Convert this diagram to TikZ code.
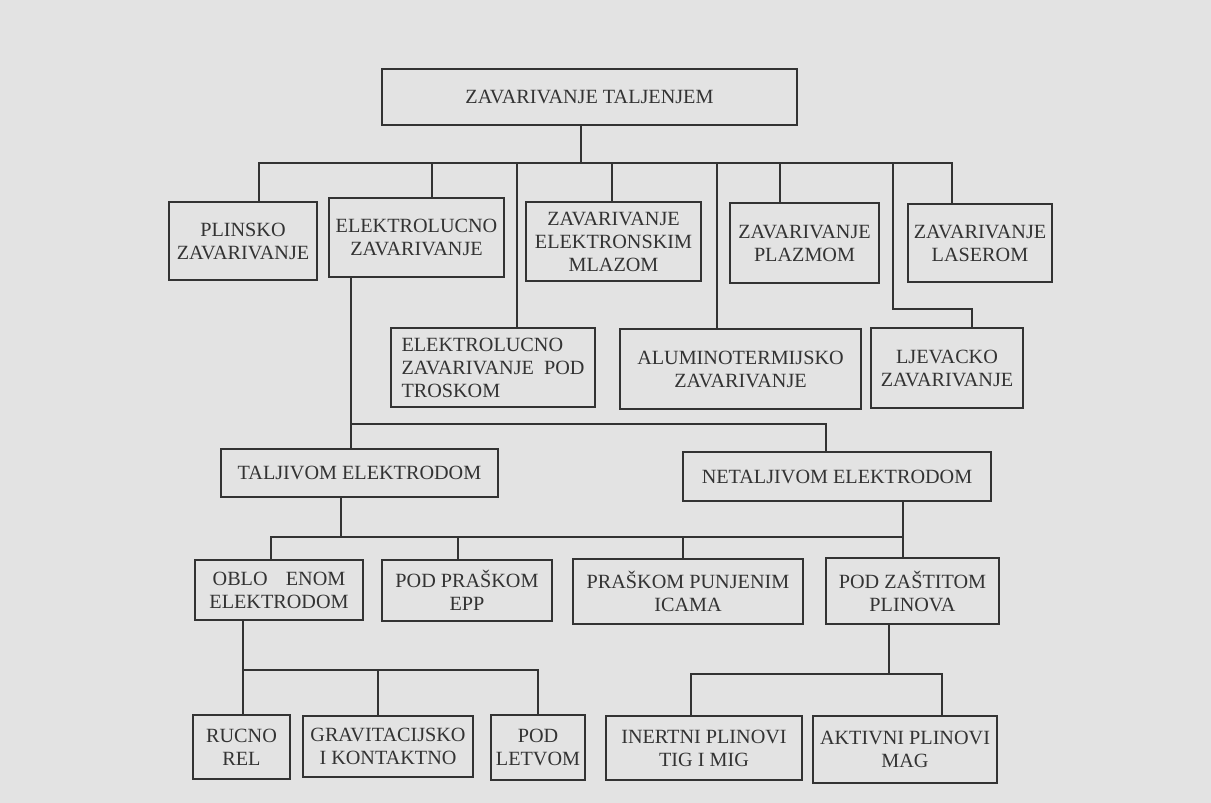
\documentclass[tikz,border=0pt]{standalone}
\usepackage{fontspec}
\setmainfont{Liberation Serif}
\usetikzlibrary{positioning}

\definecolor{bggray}{HTML}{E3E3E3}
\definecolor{ink}{HTML}{333333}

\begin{document}
\begin{tikzpicture}[
  x=1pt, y=-1pt,
  box/.style = {draw=ink, line width=1.8pt, text=ink, align=center,
    inner sep=0pt, font=\fontsize{20.2}{23}\selectfont},
  link/.style = {draw=ink, line width=1.8pt},
]

  \fill[bggray] (0,0) rectangle (1211,803);
  \useasboundingbox (0,0) rectangle (1211,803);

  \node[box, minimum width=415pt, minimum height=56pt] (root) at (589.5,97) {ZAVARIVANJE TALJENJEM};

  % first level
  \node[box, minimum width=148pt, minimum height=78pt] (plinsko) at (243,241) {PLINSKO\\ZAVARIVANJE};
  \node[box, minimum width=175pt, minimum height=79pt] (elektro) at (416.5,237.5) {ELEKTROLUCNO\\ZAVARIVANJE};
  \node[box, minimum width=175pt, minimum height=79pt] (mlaz) at (613.5,241.5) {ZAVARIVANJE\\ELEKTRONSKIM\\MLAZOM};
  \node[box, minimum width=149pt, minimum height=80pt] (plazma) at (804.5,243) {ZAVARIVANJE\\PLAZMOM};
  \node[box, minimum width=144pt, minimum height=78pt] (laser) at (980,243) {ZAVARIVANJE\\LASEROM};

  \node[box, align=left, minimum width=204pt, minimum height=79pt] (troskom) at (493,367.5) {ELEKTROLUCNO\\ZAVARIVANJE\ \ POD\\TROSKOM};
  \node[box, minimum width=241pt, minimum height=80pt] (alumino) at (740.5,369) {ALUMINOTERMIJSKO\\ZAVARIVANJE};
  \node[box, minimum width=152pt, minimum height=80pt] (ljevacko) at (947,368) {LJEVACKO\\ZAVARIVANJE};

  % elektrode
  \node[box, minimum width=277pt, minimum height=48pt] (taljivom) at (359.5,473) {TALJIVOM ELEKTRODOM};
  \node[box, minimum width=308pt, minimum height=49pt] (netaljivom) at (837,476.5) {NETALJIVOM ELEKTRODOM};

  \node[box, minimum width=168pt, minimum height=60pt] (oblo) at (279,590) {OBLO\hspace{0.9em}ENOM\\ELEKTRODOM};
  \node[box, minimum width=170pt, minimum height=61pt] (praskom) at (467,590.5) {POD PRAŠKOM\\EPP};
  \node[box, minimum width=230pt, minimum height=65pt] (punjenim) at (688,591.5) {PRAŠKOM PUNJENIM\\ICAMA};
  \node[box, minimum width=173pt, minimum height=66pt] (zastitom) at (912.5,591) {POD ZAŠTITOM\\PLINOVA};

  % last level
  \node[box, minimum width=97pt, minimum height=64pt] (rucno) at (241.5,747) {RUCNO\\REL};
  \node[box, minimum width=170pt, minimum height=61pt] (gravit) at (388,746.5) {GRAVITACIJSKO\\I KONTAKTNO};
  \node[box, minimum width=94pt, minimum height=65pt] (letvom) at (538,747.5) {POD\\LETVOM};
  \node[box, minimum width=196pt, minimum height=64pt] (inertni) at (704,748) {INERTNI PLINOVI\\TIG I MIG};
  \node[box, minimum width=184pt, minimum height=67pt] (aktivni) at (905,749.5) {AKTIVNI PLINOVI\\MAG};

  % top bus
  \coordinate (r0) at (581,163);
  \coordinate (r1) at (259,163);
  \coordinate (r2) at (432,163);
  \coordinate (r3) at (517,163);
  \coordinate (r4) at (612,163);
  \coordinate (r5) at (717,163);
  \coordinate (r6) at (780,163);
  \coordinate (r7) at (893,163);
  \coordinate (r8) at (952,163);
  \coordinate (bend) at (893,309);
  \coordinate (bend2) at (972,309);

  \draw[link] (root.south -| r0) -- (r0);
  \draw[link] (plinsko.north -| r1) -- (r1) -- (r8) -- (laser.north -| r8);
  \draw[link] (r2) -- (elektro.north -| r2);
  \draw[link] (r3) -- (troskom.north -| r3);
  \draw[link] (r4) -- (mlaz.north -| r4);
  \draw[link] (r5) -- (alumino.north -| r5);
  \draw[link] (r6) -- (plazma.north -| r6);
  \draw[link] (r7) -- (bend) -- (bend2) -- (ljevacko.north -| bend2);

  % elektrolucno
  \coordinate (e0) at (351,424);
  \coordinate (e1) at (826,424);
  \draw[link] (elektro.south -| e0) -- (taljivom.north -| e0);
  \draw[link] (e0) -- (e1) -- (netaljivom.north -| e1);

  \coordinate (t0) at (341,537);
  \coordinate (t1) at (271,537);
  \coordinate (t2) at (458,537);
  \coordinate (t3) at (683,537);
  \coordinate (t4) at (903,537);
  \draw[link] (taljivom.south -| t0) -- (t0);
  \draw[link] (oblo.north -| t1) -- (t1) -- (t4);
  \draw[link] (netaljivom.south -| t4) -- (zastitom.north -| t4);
  \draw[link] (t2) -- (praskom.north -| t2);
  \draw[link] (t3) -- (punjenim.north -| t3);

  % oblozenom
  \coordinate (o0) at (243,670);
  \coordinate (o1) at (378,670);
  \coordinate (o2) at (538,670);
  \draw[link] (oblo.south -| o0) -- (rucno.north -| o0);
  \draw[link] (o0) -- (o2) -- (letvom.north -| o2);
  \draw[link] (o1) -- (gravit.north -| o1);

  % plinovi
  \coordinate (z0) at (889,674);
  \coordinate (z1) at (691,674);
  \coordinate (z2) at (942,674);
  \draw[link] (zastitom.south -| z0) -- (z0);
  \draw[link] (inertni.north -| z1) -- (z1) -- (z2) -- (aktivni.north -| z2);

\end{tikzpicture}
\end{document}
